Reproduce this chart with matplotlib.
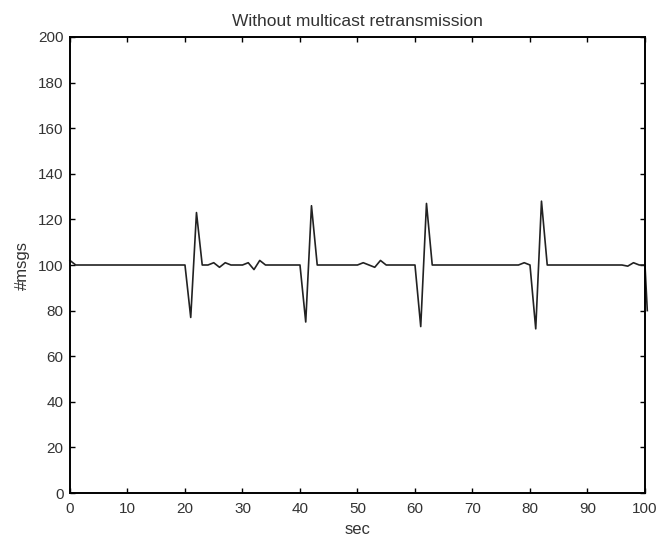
"""Message count over time, without multicast retransmission."""

import matplotlib

matplotlib.use("Agg")
import matplotlib.pyplot as plt
import numpy as np

# seconds (1 s samples) and #msgs per sample
secs = list(range(0, 101)) + [100.4]
msgs = [
    102, 100, 100, 100, 100, 100, 100, 100, 100, 100,  # 0-9
    100, 100, 100, 100, 100, 100, 100, 100, 100, 100,  # 10-19
    100, 77, 123, 100, 100, 101, 99, 101, 100, 100,    # 20-29
    100, 101, 98, 102, 100, 100, 100, 100, 100, 100,   # 30-39
    100, 75, 126, 100, 100, 100, 100, 100, 100, 100,   # 40-49
    100, 101, 100, 99, 102, 100, 100, 100, 100, 100,   # 50-59
    100, 73, 127, 100, 100, 100, 100, 100, 100, 100,   # 60-69
    100, 100, 100, 100, 100, 100, 100, 100, 100, 101,  # 70-79
    100, 72, 128, 100, 100, 100, 100, 100, 100, 100,   # 80-89
    100, 100, 100, 100, 100, 100, 100, 99.5, 101, 100, # 90-99
    100, 80,
]

xticks = np.arange(0, 101, 10)
yticks = np.arange(0, 201, 20)

plt.rcParams["font.family"] = ["Liberation Sans", "DejaVu Sans"]

fig = plt.figure(figsize=(6.62, 5.40), dpi=100)
ax = fig.add_axes([0.1057, 0.087, 0.8686, 0.8445])

ax.plot(secs, msgs, color="#222222", lw=1.2, clip_on=False)

ax.set_xlim(0, 100)
ax.set_ylim(0, 200)
ax.set_xticks(xticks)
ax.set_yticks(yticks)
ax.tick_params(direction="in", length=3.5, width=1.0, top=True, right=True,
               labelsize=11, labelcolor="#333333")
ax.tick_params(axis="x", pad=6.5)
ax.tick_params(axis="y", pad=4.5)
for s in ax.spines.values():
    s.set_linewidth(1.4)

ax.set_title("Without multicast retransmission", fontsize=12.5, pad=8,
             color="#333333")
ax.set_xlabel("sec", fontsize=12, labelpad=4, color="#333333")
ax.set_ylabel("#msgs", fontsize=12, labelpad=6, color="#333333")

fig.savefig("out.png", dpi=100)
plt.close(fig)
